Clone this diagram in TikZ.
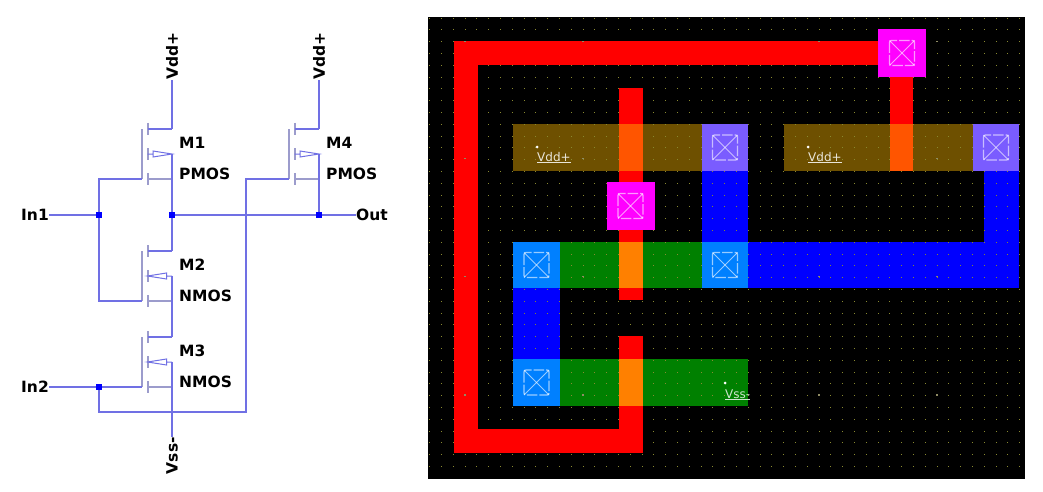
\documentclass[tikz,border=0pt]{standalone}
\usepackage{fontspec}
\setmainfont{DejaVu Sans}
\usetikzlibrary{positioning}

\definecolor{wirecol}{HTML}{7070E4}
\definecolor{barcol}{HTML}{9C9CCC}
\definecolor{pdiffcol}{HTML}{6E5000}
\definecolor{ndiffcol}{HTML}{008000}
\definecolor{polycol}{HTML}{FF0000}
\definecolor{metalcol}{HTML}{0000FF}
\definecolor{pcutcol}{HTML}{FF00FF}
\definecolor{pdcutcol}{HTML}{7A5CFF}
\definecolor{ndcutcol}{HTML}{0080FF}
\definecolor{pgatecol}{HTML}{FF5500}
\definecolor{ngatecol}{HTML}{FF8000}
\definecolor{griddot}{HTML}{8A8A30}

\tikzset{wire/.style = {draw=wirecol, line width=1.1pt}}
\tikzset{bar/.style = {draw=barcol, line width=2pt}}
\tikzset{junction/.style = {fill=blue, minimum size=6.5pt, inner sep=0pt, shape=rectangle}}
\tikzset{schlabel/.style = {font=\fontsize{15.5}{18}\selectfont\bfseries, inner sep=0pt}}
\tikzset{laylabel/.style = {font=\fontsize{12}{14}\selectfont, inner sep=0pt, anchor=base west}}
\tikzset{cutmark/.style = {draw=white, draw opacity=0.6, line width=1.3pt}}

\begin{document}
\begin{tikzpicture}[x=1pt, y=-1pt]
\useasboundingbox (0,0) rectangle (1043,492);

% schematic: junctions and terminals
\node[junction] (ji1) at (99,215) {};
\node[junction] (jo1) at (172,215) {};
\node[junction] (jo4) at (319,215) {};
\node[junction] (ji2) at (99,387) {};
\node[schlabel, anchor=east] (in1) at (49,215) {In1};
\node[schlabel, anchor=east] (in2) at (49,387) {In2};
\node[schlabel, anchor=west] (out) at (356,215) {Out};
\node[schlabel, anchor=west, rotate=90] (vdd1) at (172,80) {Vdd+};
\node[schlabel, anchor=west, rotate=90] (vdd4) at (319,80) {Vdd+};
\node[schlabel, anchor=east, rotate=90] (vss) at (172,437) {Vss-};
\coordinate (c1) at (99,412);
\coordinate (c2) at (246,412);

% transistors
\foreach \name/\xx/\yy/\kind in {M1/172/129/PMOS, M2/172/251/NMOS, M3/172/337/NMOS, M4/319/129/PMOS} {
  \coordinate (\name d) at (\xx,\yy);
  \coordinate (\name b) at (\xx,\yy+25);
  \coordinate (\name s) at (\xx,\yy+50);
  \coordinate (\name g) at (\xx-30.5,\yy+50);
  \draw[bar] (\xx-30.5,\yy) -- (\name g);
  \draw[bar] (\xx-24.5,\yy-6) -- (\xx-24.5,\yy+6);
  \draw[bar] (\xx-24.5,\yy+19) -- (\xx-24.5,\yy+31);
  \draw[bar] (\xx-24.5,\yy+44) -- (\xx-24.5,\yy+56);
  \draw[bar] (\xx-24.5,\yy+50) -- (\name s);
  \draw[wire] (\xx-24.5,\yy) -- (\name d);
  \node[schlabel, anchor=west] (\name t) at (\xx+7,\yy+14) {\name};
  \node[schlabel, anchor=west] (\name k) at (\xx+7,\yy+44.5) {\kind};
}
\foreach \name/\xx/\yy in {M1/172/129, M4/319/129}
  \draw[wire, line width=1pt] (\xx-24.5,\yy+25) -- (\xx-19,\yy+25) -- (\xx-19,\yy+22) -- (\name b) -- (\xx-19,\yy+28) -- (\xx-19,\yy+25);
\foreach \name/\xx/\yy in {M2/172/251, M3/172/337}
  \draw[wire, line width=1pt] (\xx-24.5,\yy+25) -- (\xx-5.5,\yy+22) -- (\xx-5.5,\yy+28) -- cycle (\xx-5.5,\yy+25) -- (\name b);

% wires
\draw[wire] (vdd1) -- (M1d);
\draw[wire] (vdd4) -- (M4d);
\draw[wire] (M1b) -- (M1s) -- (jo1) -- (M2d);
\draw[wire] (M4b) -- (M4s) -- (jo4);
\draw[wire] (M2b) -- (M2s) -- (M3d);
\draw[wire] (M3b) -- (M3s) -- (vss);
\draw[wire] (jo1) -- (jo4) -- (out);
\draw[wire] (in1) -- (ji1);
\draw[wire] (ji1) |- (M1g);
\draw[wire] (ji1) |- (M2g);
\draw[wire] (in2) -- (ji2) -- (M3g);
\draw[wire] (ji2) -- (c1) -- (c2) |- (M4g);

% layout: background
\fill[black] (428,17) rectangle (1025,479);

% layout: diffusion and metal
\fill[pdiffcol] (513,124) rectangle (702,171);
\fill[pdiffcol] (784,124) rectangle (973,171);
\fill[ndiffcol] (560,242) rectangle (702,288);
\fill[ndiffcol] (560,359) rectangle (748,406);
\fill[metalcol] (702,171) rectangle (748,242);
\fill[metalcol] (748,242) rectangle (1019,288);
\fill[metalcol] (984,171) rectangle (1019,242);
\fill[metalcol] (513,288) rectangle (560,359);

% layout: grid
\foreach \i in {-3,...,47}
  \foreach \j in {-2,...,36}
    \fill[griddot] ({465+11.8*\i-.5},{41.7+11.8*\j-.5}) rectangle +(1,1);

% layout: poly
\fill[polycol] (454,41) rectangle (878,65);
\fill[polycol] (454,41) rectangle (478,453);
\fill[polycol] (454,429) rectangle (643,453);
\fill[polycol] (619,336) rectangle (643,453);
\fill[polycol] (619,88) rectangle (643,300);
\fill[polycol] (890,77) rectangle (913,171);
\fill[pgatecol] (619,124) rectangle (643,171);
\fill[pgatecol] (890,124) rectangle (913,171);
\fill[ngatecol] (619,242) rectangle (643,288);
\fill[ngatecol] (619,359) rectangle (643,406);

% layout: contacts
\foreach \cx/\cy/\cw/\ch/\col in {902/53/24/24/pcutcol, 630.5/206/24/24/pcutcol,
    725/147.5/23/23.5/pdcutcol, 996/147.5/23/23.5/pdcutcol,
    536.5/265/23.5/23/ndcutcol, 725/265/23/23/ndcutcol, 536.5/382.5/23.5/23.5/ndcutcol} {
  \fill[\col] (\cx-\cw,\cy-\ch) rectangle (\cx+\cw,\cy+\ch);
  \draw[cutmark, rounded corners=2pt, dash pattern=on 10.5pt off 2pt] (\cx-12.5,\cy-12.5) rectangle (\cx+12.5,\cy+12.5);
  \draw[cutmark, line width=1pt] (\cx-12.5,\cy-12.5) -- (\cx+12.5,\cy+12.5);
  \draw[cutmark, line width=1pt] (\cx-12.5,\cy+12.5) -- (\cx+12.5,\cy-12.5);
}

% layout: big grid dots
\foreach \xx in {465,583,819,937}
  \foreach \yy in {41.7,158.3,276.3,395}
    \fill[gray!70!olive] (\xx-.8,\yy-.8) rectangle +(1.6,1.6);

% layout: labels
\node[laylabel, text=white!85!pdiffcol] (lvdd1) at (537,161) {\underline{Vdd+}};
\node[laylabel, text=white!85!pdiffcol] (lvdd2) at (808,161) {\underline{Vdd+}};
\node[laylabel, text=white!80!ndiffcol] (lvss) at (725,398) {\underline{Vss-}};
\fill[white] (537,147) circle (1.5);
\fill[white] (808,147) circle (1.5);
\fill[white] (725,383) circle (1.5);

\end{tikzpicture}
\end{document}
